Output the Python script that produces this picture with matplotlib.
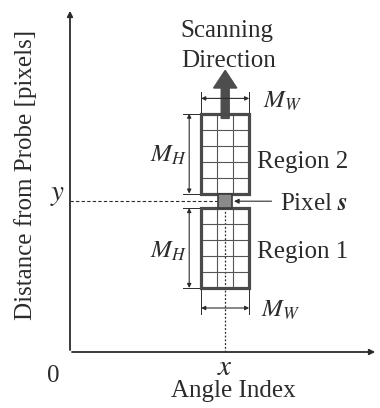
import matplotlib
matplotlib.use('Agg')
import matplotlib.pyplot as plt
from matplotlib.patches import Rectangle, FancyArrow

plt.rcParams['font.family'] = ['Liberation Serif', 'DejaVu Serif']
plt.rcParams['mathtext.fontset'] = 'stix'

# diagram values (cell units)
region_cols = 3
region_rows = 5
pixel_x = 9.2      # lower-left corner of pixel s
pixel_y = 9.0
pixel_h = 0.85
region_names = ['Region 1', 'Region 2']
region_label_y = [5.875, 11.5]
x_max = 19.25
y_max = 21.5
arrow_top = 17.6

ink = '#2b2b2b'
box = '#4a4a4a'
fs = 18

fig = plt.figure(figsize=(3.8, 4.08), dpi=100)
ax = fig.add_axes([0, 0, 1, 1])
ax.set_xlim(-4.375, 19.375)
ax.set_ylim(-3.5, 22)
ax.axis('off')

# axes with arrows
ax.annotate('', xy=(0, y_max), xytext=(0, -0.05),
            arrowprops=dict(arrowstyle='-|>', color=ink, lw=1.3, mutation_scale=8))
ax.annotate('', xy=(x_max, 0), xytext=(-0.05, 0),
            arrowprops=dict(arrowstyle='-|>', color=ink, lw=1.3, mutation_scale=8))

cx = pixel_x + 0.5
cy = pixel_y + pixel_h / 2

# guide lines to pixel s
ax.plot([0, cx], [cy, cy], ls=(0, (3, 2)), color=ink, lw=0.8)
ax.plot([cx, cx], [0, pixel_y], ls=(0, (1.5, 1.5)), color=ink, lw=0.9)

region2_y = pixel_y + pixel_h + 0.05
x0 = pixel_x - 1

# scanning direction arrow
base = region2_y + region_rows - 0.3
ax.add_patch(FancyArrow(cx, base, 0, arrow_top - base,
                        width=0.5, head_width=1.45, head_length=1.1,
                        length_includes_head=True, color='#4d4d4d', zorder=2))

# regions
for name, y0, ly in zip(region_names, [pixel_y - region_rows, region2_y], region_label_y):
    for i in range(1, region_cols):
        ax.plot([x0 + i, x0 + i], [y0, y0 + region_rows], color='#555555', lw=0.8, zorder=3)
    for j in range(1, region_rows):
        ax.plot([x0, x0 + region_cols], [y0 + j, y0 + j], color='#555555', lw=0.8, zorder=3)
    ax.add_patch(Rectangle((x0, y0), region_cols, region_rows, fill=False,
                           ec=box, lw=2.3, zorder=4))
    ax.text(11.69, ly, name, fontsize=fs, color=ink, va='baseline', ha='left')
    # height dimension
    hx = x0 - 0.75
    for yy in [y0, y0 + region_rows]:
        ax.plot([hx - 0.4, x0], [yy, yy], color=ink, lw=0.7)
    ax.annotate('', xy=(hx, y0), xytext=(hx, y0 + region_rows),
                arrowprops=dict(arrowstyle='<|-|>', color=ink, lw=0.8, mutation_scale=6,
                                shrinkA=0, shrinkB=0))
    ax.text(7.31, ly + 0.375 if y0 > pixel_y else ly, r'$M_H$', fontsize=fs, color=ink,
            ha='right', va='baseline')

# pixel s
ax.add_patch(Rectangle((pixel_x + 0.05, pixel_y), 0.9, pixel_h, fc='#8a8a8a',
                       ec='#3a3a3a', lw=1.2, zorder=5))

# width dimensions
for y_edge, y_dim, lx, ly in [(region2_y + region_rows, 15.85, 12.06, 15.25),
                              (pixel_y - region_rows, 2.75, 11.94, 2.19)]:
    ext = 0.4 if y_dim > y_edge else -0.35
    for xx in [x0, x0 + region_cols]:
        ax.plot([xx, xx], [y_edge, y_dim + ext], color=ink, lw=0.7)
    ax.annotate('', xy=(x0, y_dim), xytext=(x0 + region_cols, y_dim),
                arrowprops=dict(arrowstyle='<|-|>', color=ink, lw=0.8, mutation_scale=6,
                                shrinkA=0, shrinkB=0))
    ax.text(lx, ly, r'$M_W$', fontsize=fs, color=ink, ha='left', va='baseline')

# pixel s label
ax.annotate('', xy=(pixel_x + 1.05, cy), xytext=(12.6, cy),
            arrowprops=dict(arrowstyle='-|>', color=ink, lw=0.8, mutation_scale=7,
                            shrinkA=0, shrinkB=0))
ax.text(13.125, 8.875, r'Pixel $\boldsymbol{s}$', fontsize=fs, color=ink,
        ha='left', va='baseline')

ax.text(9.82, 19.69, 'Scanning', fontsize=fs, color=ink, ha='center', va='baseline')
ax.text(9.9, 17.81, 'Direction', fontsize=fs, color=ink, ha='center', va='baseline')

# axis labels
ax.text(-0.75, 9.5, r'$y$', fontsize=21, color=ink, ha='center', va='baseline')
ax.text(cx, -1.44, r'$x$', fontsize=21, color=ink, ha='center', va='baseline')
ax.text(-1.06, -1.875, '0', fontsize=fs, color=ink, ha='center', va='baseline')
ax.text(10.22, -2.81, 'Angle Index', fontsize=fs, color=ink, ha='center', va='baseline')
ax.text(-2.81, 11.06, 'Distance from Probe [pixels]', fontsize=fs, color=ink,
        ha='center', va='center', rotation=90)

fig.savefig('out.png', dpi=100, facecolor='white')
